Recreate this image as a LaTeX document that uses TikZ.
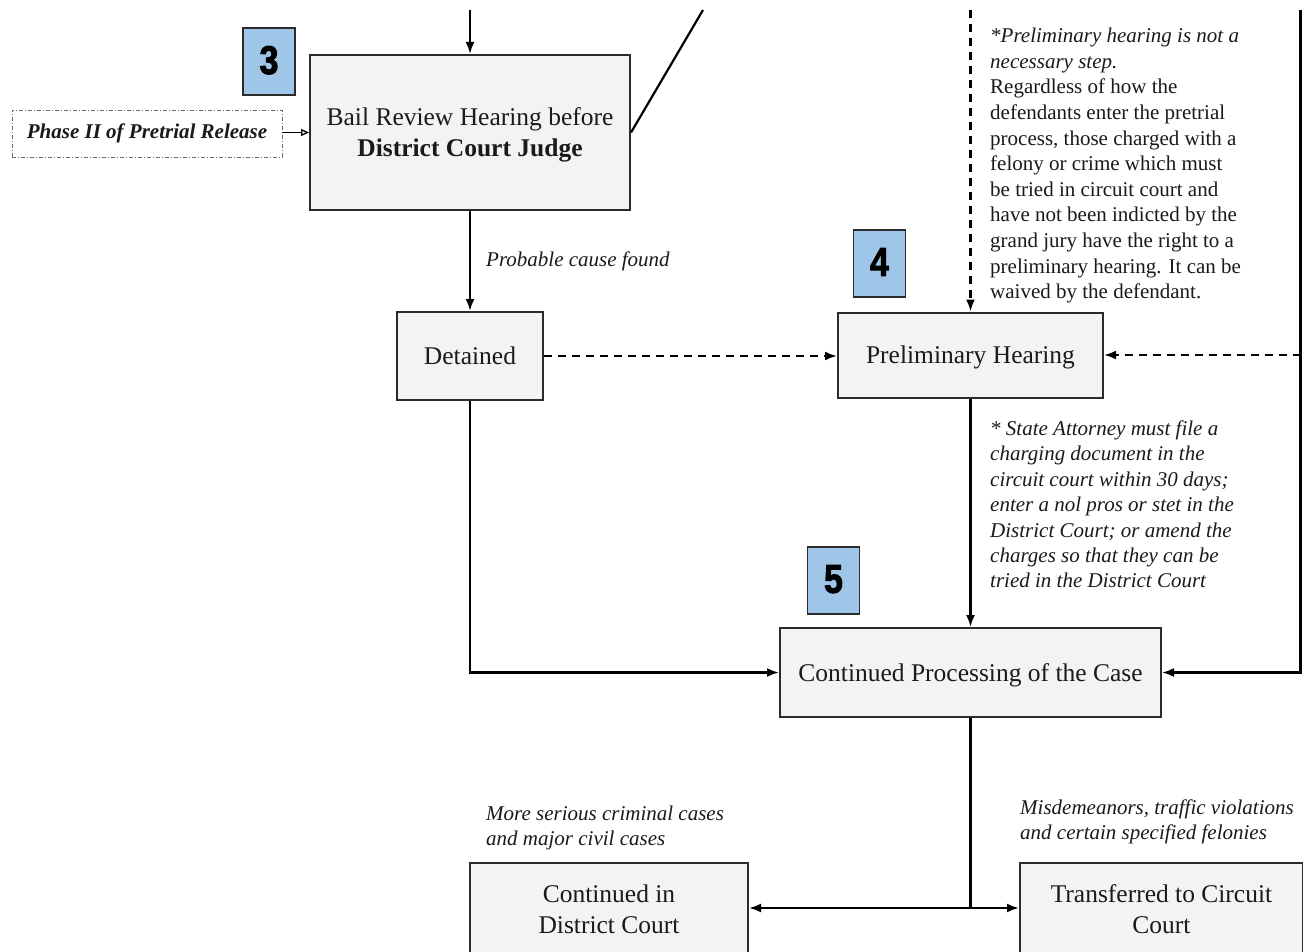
\documentclass[tikz,border=0pt]{standalone}
\usepackage{fontspec}
\setmainfont{Liberation Serif}
\newfontfamily\badgefont[BoldFeatures={FakeBold=2.5}]{Liberation Sans}
\usetikzlibrary{arrows.meta}
\definecolor{boxfill}{HTML}{F3F3F3}
\definecolor{badgeblue}{HTML}{9FC5E8}
\definecolor{edge}{HTML}{2B2B2B}
\definecolor{ink}{HTML}{1A1A1A}
\begin{document}
\begin{tikzpicture}[x=1pt,y=-1pt,
  boxbase/.style={draw=edge, line width=2pt, fill=boxfill, inner sep=0pt, text=ink,
    font=\fontsize{25.5}{31}\selectfont},
  box/.style={boxbase, text depth=0pt},
  box2/.style={boxbase, align=center},
  badge/.style={draw=edge, line width=1.8pt, fill=badgeblue, inner sep=0pt,
    minimum width=52pt, minimum height=67pt, font=\badgefont\bfseries\fontsize{40}{40}\selectfont},
  conn/.style={line width=2.2pt, draw=black, -{Latex[length=12pt,width=9pt]}},
  dashconn/.style={conn, dash pattern=on 8pt off 6pt},
  plainline/.style={line width=2.2pt, draw=black},
  note/.style={font=\fontsize{21}{25.6}\selectfont, align=left, anchor=north west, inner sep=0pt, text=ink},
  lbl/.style={font=\itshape\fontsize{21}{25.4}\selectfont, align=left, anchor=north west, inner sep=0pt, text=ink},
]
\useasboundingbox (0,0) rectangle (1303,952);
\clip (0,0) rectangle (1303,952);
\fill[white] (0,0) rectangle (1303,952);

% boxes
\node[box2, minimum width=320pt, minimum height=155pt] (bail) at (470,132.5)
  {Bail Review Hearing before\\ \smash{\textbf{District Court Judge}}};
\node[draw=edge!70, line width=0.9pt, dash pattern=on 4pt off 2pt on 1pt off 2pt, inner sep=0pt,
  minimum width=270pt, minimum height=47pt, font=\bfseries\itshape\fontsize{21}{24}\selectfont, text=ink]
  (phase) at (147,133.5) {Phase II of Pretrial Release};
\node[box, minimum width=146pt, minimum height=88pt] (det) at (470,356) {Detained};
\node[box, minimum width=265pt, minimum height=85pt] (prelim) at (970.5,355) {Preliminary Hearing};
\node[box, minimum width=381pt, minimum height=89pt] (cont) at (970.5,672.5) {Continued Processing of the Case};
\node[box2, minimum width=278pt, minimum height=92pt] (dist) at (609,909) {Continued in\\ District Court};
\node[box2, minimum width=283pt, minimum height=92pt] (trans) at (1161.5,909) {Transferred to Circuit\\ Court};

% badges
\node[badge] (b3) at (269,61.5) {\raisebox{3pt}{\scalebox{0.85}[1]{3}}};
\node[badge] (b4) at (879.5,263.5) {\raisebox{3pt}{\scalebox{0.85}[1]{4}}};
\node[badge] (b5) at (833.5,580.5) {\raisebox{3pt}{\scalebox{0.85}[1]{5}}};

% free ends
\coordinate (top1) at (470,10);
\coordinate (topdiag) at (703,10);
\coordinate (topdash) at (970.5,10);
\coordinate (rtop) at (1300.5,10);
\coordinate (rmid) at (1300.5,355);
\coordinate (rbot) at (1300.5,672.5);
\coordinate (split) at (970.5,908);

% connectors
\draw[conn] (top1) -- (bail.north);
\draw[plainline] (bail.east) -- (topdiag);
\draw[line width=1.3pt, -{Triangle[open,length=8pt,width=7pt]}] (phase.east |- bail.east) -- (bail.west);
\draw[conn] (bail.south) -- (det.north);
\draw[dashconn] (det.east) -- (det.east -| prelim.west);
\draw[dashconn] (topdash) -- (prelim.north);
\draw[dashconn] (rmid) -- (prelim.east);
\draw[conn] (rtop) -- (rbot) -- (cont.east);
\draw[conn] (prelim.south) -- (cont.north);
\draw[conn] (det.south) |- (cont.west);
\draw[plainline] (cont.south) -- (split);
\draw[conn] (split) -- (split -| dist.east);
\draw[conn] (split) -- (split -| trans.west);

% labels
\node[lbl] (lprob) at (486,252) {Probable cause found};
\node[note] (note1) at (990,28) {\textit{*Preliminary hearing is not a}\\
  \textit{necessary step.}\\
  Regardless of how the\\
  defendants enter the pretrial\\
  process, those charged with a\\
  felony or crime which must\\
  be tried in circuit court and\\
  have not been indicted by the\\
  grand jury have the right to a\\
  preliminary hearing. It can be\\
  waived by the defendant.};
\node[lbl] (note2) at (990,420.5) {* State Attorney must file a\\
  charging document in the\\
  circuit court within 30 days;\\
  enter a nol pros or stet in the\\
  District Court; or amend the\\
  charges so that they can be\\
  tried in the District Court};
\node[lbl] (lmore) at (486,805.5) {More serious criminal cases\\ and major civil cases};
\node[lbl] (lmis) at (1020,799.5) {Misdemeanors, traffic violations\\ and certain specified felonies};
\end{tikzpicture}
\end{document}
